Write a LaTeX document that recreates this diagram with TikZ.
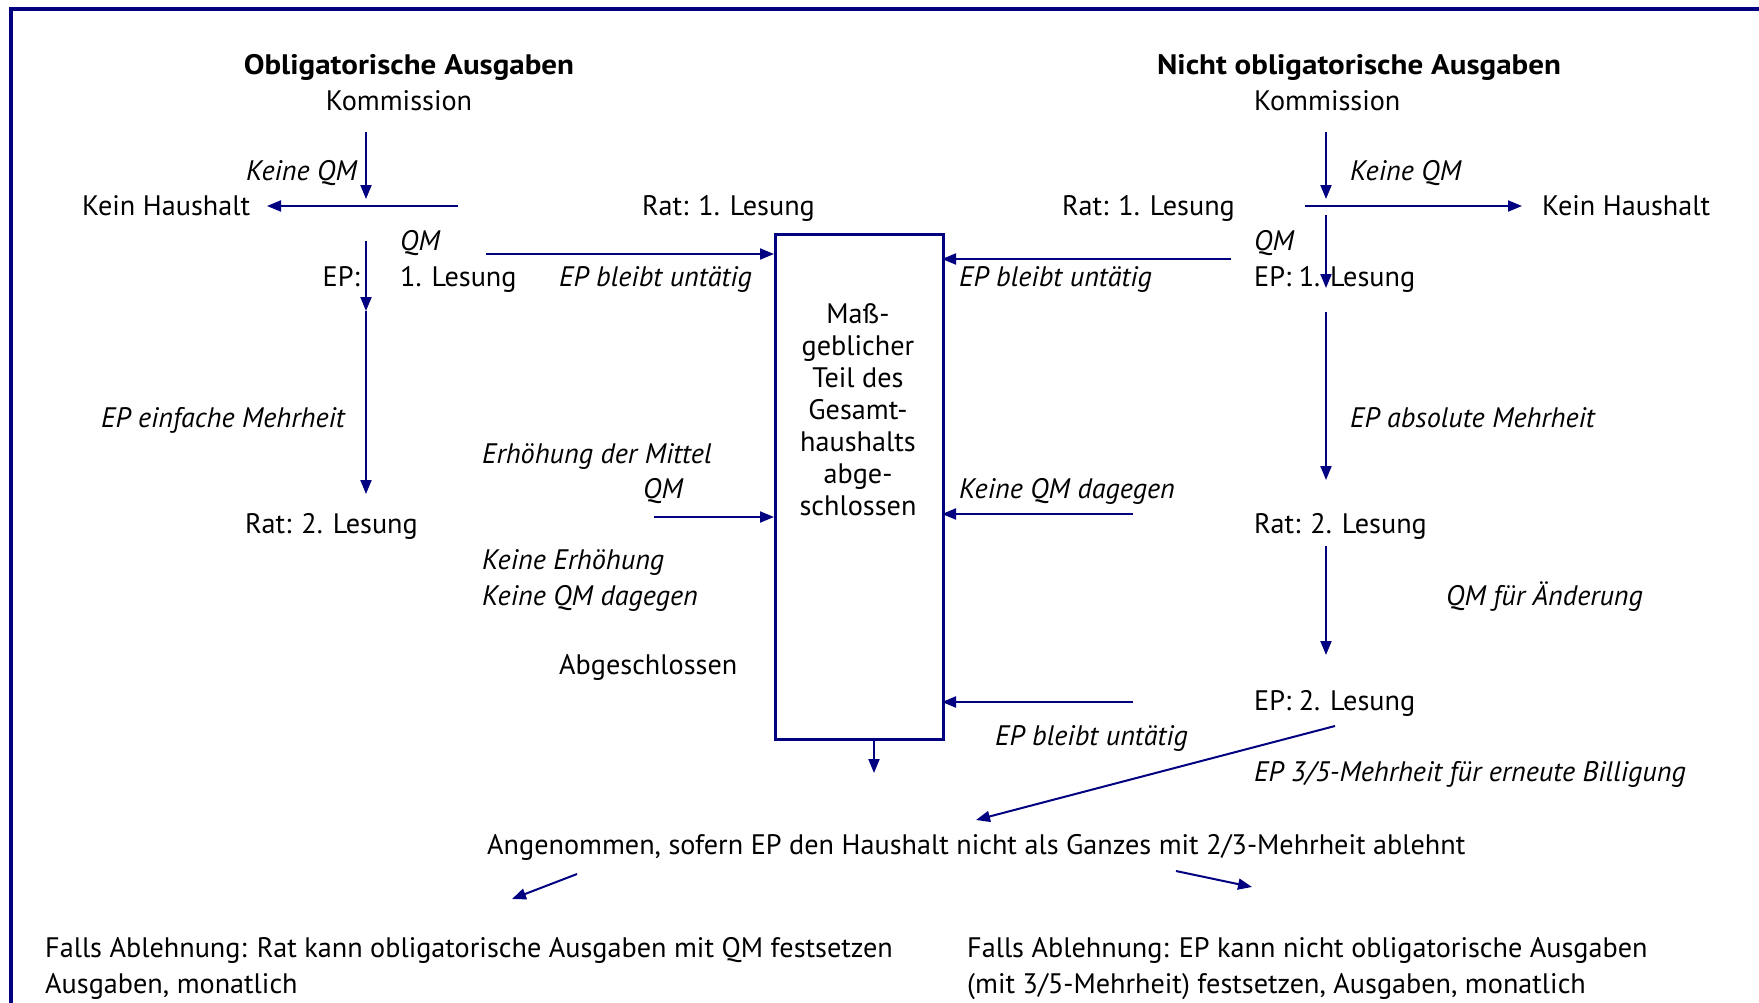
\documentclass[tikz,border=0pt]{standalone}
\usepackage{fontspec}
\setmainfont[BoldFeatures={FakeStretch=1.1}]{PT Sans}
\usetikzlibrary{arrows.meta}
\definecolor{navyline}{RGB}{0,0,128}
\tikzset{
  lbl/.style={inner sep=0pt, font=\fontsize{28.2}{32}\selectfont},
  ilbl/.style={inner sep=0pt, font=\fontsize{28.2}{32}\selectfont\itshape},
  blbl/.style={inner sep=0pt, font=\fontsize{28.2}{32}\selectfont\bfseries},
  conn/.style={draw=navyline, line width=2pt, -{Triangle[length=14pt,width=11pt]}},
  plain/.style={draw=navyline, line width=2pt},
}
\begin{document}
\begin{tikzpicture}[x=1pt,y=-1pt]
\useasboundingbox (0,0) rectangle (1759,1002);
% frame
\draw[navyline, line width=4pt] (11,1010) -- (11,9) -- (1770,9);

% ---------- left column
\node[blbl, anchor=base] (t1) at (409,74) {Obligatorische Ausgaben};
\node[lbl, anchor=base] (k1) at (399,110) {Kommission};
\node[ilbl, anchor=base east] (kq1) at (357,180) {Keine QM};
\node[lbl, anchor=base west] (kh1) at (82,215) {Kein Haushalt};
\node[ilbl, anchor=base west] (qm1) at (400,250) {QM};
\node[lbl, anchor=base east] (ep1) at (360,286) {EP:};
\node[lbl, anchor=base west] (les1) at (400,286) {1. Lesung};
\node[lbl, anchor=base west] (rat1) at (642,215) {Rat: 1. Lesung};
\node[ilbl, anchor=base west] (unt1) at (559,286) {EP bleibt untätig};
\node[ilbl, anchor=base west] (emh) at (101,427) {EP einfache Mehrheit};
\node[lbl, anchor=base west] (rat2l) at (245,533) {Rat: 2. Lesung};

\coordinate (a1s) at (366,132); \coordinate (a1e) at (366,199);
\coordinate (h1s) at (458,206); \coordinate (h1e) at (267,206);
\coordinate (a2s) at (366,241); \coordinate (a2e) at (366,311);
\coordinate (a3e) at (366,494);
\coordinate (r1s) at (486,254);
\draw[conn] (a1s) -- (a1e);
\draw[conn] (h1s) -- (h1e);
\draw[conn] (a2s) -- (a2e);
\draw[conn] (a2e) -- (a3e);

% ---------- central box
\node[draw=navyline, line width=2.5pt, minimum width=168pt, minimum height=505pt, inner sep=0pt, anchor=north west] (box) at (774,233) {};
\node[lbl, align=center] (boxtxt) at (858,410) {Maß-\\geblicher\\Teil des\\Gesamt-\\haushalts\\abge-\\schlossen};
\coordinate (boxin1) at (774,254);
\coordinate (boxin2) at (774,517);
\coordinate (boxin3) at (942,259);
\coordinate (boxin4) at (942,514);
\coordinate (boxin5) at (942,702);
\coordinate (boxouts) at (874,738);
\coordinate (boxoute) at (874,773);
\draw[conn] (r1s) -- (boxin1);
\draw[conn] (boxouts) -- (boxoute);

% ---------- left middle
\node[ilbl, anchor=base west] (erh) at (482,463) {Erhöhung der Mittel};
\node[ilbl, anchor=base east] (qm2) at (683,498) {QM};
\node[ilbl, anchor=base west] (ker) at (482,569) {Keine Erhöhung};
\node[ilbl, anchor=base west] (kqd1) at (482,605) {Keine QM dagegen};
\node[lbl, anchor=base west] (abg) at (559,674) {Abgeschlossen};
\coordinate (m1s) at (654,517);
\draw[conn] (m1s) -- (boxin2);

% ---------- right column
\node[blbl, anchor=base] (t2) at (1359,74) {Nicht obligatorische Ausgaben};
\node[lbl, anchor=base west] (k2) at (1254,110) {Kommission};
\node[ilbl, anchor=base west] (kq2) at (1350,180) {Keine QM};
\node[lbl, anchor=base west] (kh2) at (1542,215) {Kein Haushalt};
\node[lbl, anchor=base west] (rat1r) at (1062,215) {Rat: 1. Lesung};
\node[ilbl, anchor=base west] (qm3) at (1254,250) {QM};
\node[lbl, anchor=base west] (ep1r) at (1254,286) {EP: 1. Lesung};
\node[ilbl, anchor=base west] (unt2) at (959,286) {EP bleibt untätig};
\node[ilbl, anchor=base west] (amh) at (1350,427) {EP absolute Mehrheit};
\node[lbl, anchor=base west] (rat2r) at (1254,533) {Rat: 2. Lesung};
\node[ilbl, anchor=base west] (qmae) at (1446,605) {QM für Änderung};
\node[lbl, anchor=base west] (ep2r) at (1254,710) {EP: 2. Lesung};
\node[ilbl, anchor=base west] (unt3) at (995,745) {EP bleibt untätig};
\node[ilbl, anchor=base west] (kqd2) at (959,498) {Keine QM dagegen};
\node[ilbl, anchor=base west] (dfm) at (1254,781) {EP 3/5-Mehrheit für erneute Billigung};

\coordinate (b1s) at (1326,132); \coordinate (b1e) at (1326,199);
\coordinate (h2s) at (1305,206); \coordinate (h2e) at (1522,206);
\coordinate (b2s) at (1326,215); \coordinate (b2e) at (1326,288);
\coordinate (b3s) at (1326,312); \coordinate (b3e) at (1326,480);
\coordinate (b4s) at (1326,546); \coordinate (b4e) at (1326,655);
\coordinate (l1s) at (1231,259);
\coordinate (l2s) at (1133,514);
\coordinate (l3s) at (1133,702);
\coordinate (dgs) at (1335,726); \coordinate (dge) at (976,820);
\draw[conn] (b1s) -- (b1e);
\draw[conn] (h2s) -- (h2e);
\draw[conn] (b2s) -- (b2e);
\draw[conn] (b3s) -- (b3e);
\draw[conn] (b4s) -- (b4e);
\draw[conn] (l1s) -- (boxin3);
\draw[conn] (l2s) -- (boxin4);
\draw[conn] (l3s) -- (boxin5);
\draw[conn] (dgs) -- (dge);

% ---------- bottom
\node[lbl, anchor=base west] (ang) at (487,854) {Angenommen, sofern EP den Haushalt nicht als Ganzes mit 2/3-Mehrheit ablehnt};
\node[lbl, anchor=base west] (fl1) at (45,957) {Falls Ablehnung: Rat kann obligatorische Ausgaben mit QM festsetzen};
\node[lbl, anchor=base west] (fl2) at (45,993) {Ausgaben, monatlich};
\node[lbl, anchor=base west] (fr1) at (967,957) {Falls Ablehnung: EP kann nicht obligatorische Ausgaben};
\node[lbl, anchor=base west] (fr2) at (967,993) {(mit 3/5-Mehrheit) festsetzen, Ausgaben, monatlich};
\coordinate (dls) at (577,874); \coordinate (dle) at (512,899);
\coordinate (drs) at (1176,871); \coordinate (dre) at (1252,887);
\draw[conn] (dls) -- (dle);
\draw[conn] (drs) -- (dre);
\end{tikzpicture}
\end{document}
